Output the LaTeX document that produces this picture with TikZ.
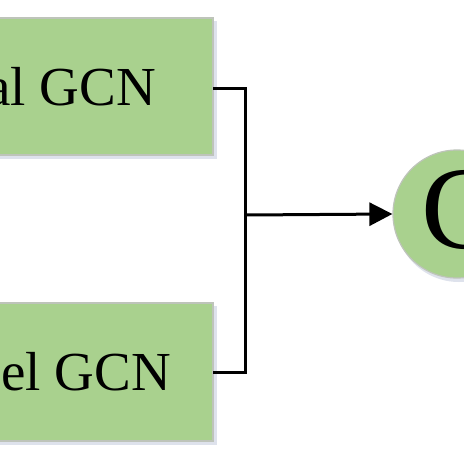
\documentclass[tikz,border=0pt]{standalone}
\usepackage{fontspec}
\setmainfont{Liberation Serif}
\usetikzlibrary{arrows.meta}
\definecolor{boxgreen}{RGB}{169,209,142}
\definecolor{boxedge}{RGB}{190,196,186}
\definecolor{shadowc}{RGB}{222,226,236}
\tikzset{
  gcnbox/.style={fill=boxgreen, draw=boxedge, line width=1.2pt},
  shadowbox/.style={fill=shadowc, draw=none},
  conn/.style={line width=3pt, draw=black},
  boxtext/.style={font=\fontsize{55}{60}\selectfont, inner sep=0pt},
  bigtext/.style={font=\fontsize{118}{120}\selectfont, inner sep=0pt}
}
\begin{document}
\begin{tikzpicture}[x=1pt,y=-1pt]
\useasboundingbox (0,0) rectangle (464,464);
\clip (0,0) rectangle (464,464);
\fill[white] (0,0) rectangle (464,464);
% shadows
\path[shadowbox] (-100,21) rectangle (217,159);
\path[shadowbox] (-100,306) rectangle (217,445);
\path[shadowbox] (459,218) circle (64);
% boxes
\path[gcnbox] (-100,18) rectangle (213,155) node[pos=1, inner sep=0pt] (top) {};
\path[gcnbox] (-100,303) rectangle (213,441) node[pos=1, inner sep=0pt] (bot) {};
\coordinate (topout) at (213,88);
\coordinate (botout) at (213,372);
\node[boxtext, anchor=base east] (toptxt) at (156,105) {al GCN};
\node[boxtext, anchor=base east] (bottxt) at (171,390) {el GCN};
% circle
\node[circle, fill=boxgreen, draw=boxedge, line width=1.2pt, minimum size=128pt, inner sep=0pt] (circ) at (457,214) {};
\node[bigtext, anchor=base west] (ctxt) at (421,248) {C};
% connectors
\coordinate (j) at (245.5,215);
\draw[conn] (topout) -| (j);
\draw[conn] (botout) -| (j);
\draw[conn, -{Triangle[length=23pt,width=23pt]}] (j) -- (circ.west);
\end{tikzpicture}
\end{document}
